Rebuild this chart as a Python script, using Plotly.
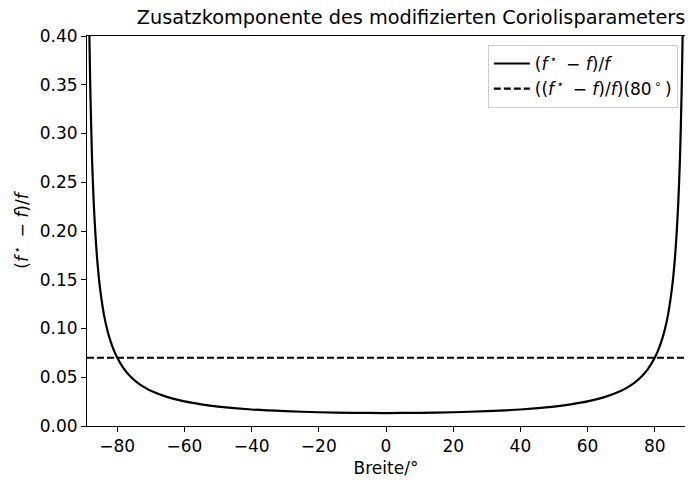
import plotly.graph_objects as go

# Latitude (deg) and values of (f*-f)/f
lat = [-89, -88.6, -88.3, -88, -87.5, -87, -86.5, -86, -85.5, -85, -84, -83, -82, -81, -80,
       -78, -76, -74, -72, -70, -65, -60, -55, -50, -40, -30, -20, -10, 0,
       10, 20, 30, 40, 50, 55, 60, 65, 70, 72, 74, 76, 78, 80,
       81, 82, 83, 84, 85, 85.5, 86, 86.5, 87, 87.5, 88, 88.3, 88.6, 89]
ratio = [0.684, 0.489, 0.403, 0.343, 0.274, 0.229, 0.197, 0.172, 0.153, 0.138, 0.115, 0.099, 0.087, 0.0775, 0.070,
         0.0587, 0.0506, 0.0446, 0.0399, 0.0362, 0.0296, 0.0252, 0.0222, 0.0199, 0.0169, 0.0152, 0.0141, 0.0135, 0.0133,
         0.0135, 0.0141, 0.0152, 0.0169, 0.0199, 0.0222, 0.0252, 0.0296, 0.0362, 0.0399, 0.0446, 0.0506, 0.0587, 0.070,
         0.0775, 0.087, 0.099, 0.115, 0.138, 0.153, 0.172, 0.197, 0.229, 0.274, 0.343, 0.403, 0.489, 0.684]
ref_lat = [-89, 89]
ref_value = [0.070, 0.070]

x_ticks = [-80, -60, -40, -20, 0, 20, 40, 60, 80]
y_ticks = [0.0, 0.05, 0.10, 0.15, 0.20, 0.25, 0.30, 0.35, 0.40]

expr = "(<i>f</i><sup>\u2009⋆</sup>\u2009 − <i>f</i>)/<i>f</i>"
expr80 = "((<i>f</i><sup>\u2009⋆</sup>\u2009 − <i>f</i>)/<i>f</i>)(80<sup>\u2009∘</sup>\u2009)"

fig = go.Figure()
fig.add_trace(go.Scatter(x=lat, y=ratio, mode="lines", name=expr,
                         line=dict(color="black", width=2.2, shape="spline", smoothing=0.6)))
fig.add_trace(go.Scatter(x=ref_lat, y=ref_value, mode="lines", name=expr80,
                         line=dict(color="black", width=2.2, dash="7px,3px")))

font = "DejaVu Sans"
W, H = 685, 474
fig.update_layout(
    width=W, height=H,
    margin=dict(l=79, r=8, t=28, b=56),
    paper_bgcolor="white", plot_bgcolor="white",
    font=dict(family=font, size=17, color="black"),
    title=dict(text="Zusatzkomponente des modifizierten Coriolisparameters",
               x=403 / W, xref="container", xanchor="center",
               y=1 - 9 / H, yref="container", yanchor="middle", automargin=False,
               font=dict(size=19.3, family=font)),
    showlegend=True,
    legend=dict(x=0.988, xanchor="right", y=0.977, yanchor="top",
                bordercolor="#cccccc", borderwidth=1, bgcolor="rgba(255,255,255,0.8)",
                font=dict(size=17, family=font), tracegroupgap=0, itemwidth=36),
    xaxis=dict(range=[-89, 89], tickvals=x_ticks, ticktext=[("−" + str(-v)) if v < 0 else str(v) for v in x_ticks],
               showgrid=False, zeroline=False, showline=True, linecolor="black", linewidth=1, mirror=True,
               ticks="outside", ticklen=5, tickwidth=1, tickcolor="black", automargin=False,
               title=dict(text="Breite/°", standoff=6, font=dict(size=17))),
    yaxis=dict(range=[0, 0.40], tickvals=y_ticks, ticktext=["%.2f" % v for v in y_ticks],
               showgrid=False, zeroline=False, showline=True, linecolor="black", linewidth=1, mirror=True,
               ticks="outside", ticklen=5, tickwidth=1, tickcolor="black", automargin=False,
               title=dict(text=expr, standoff=6, font=dict(size=17))),
)

fig.write_html("out.html")
